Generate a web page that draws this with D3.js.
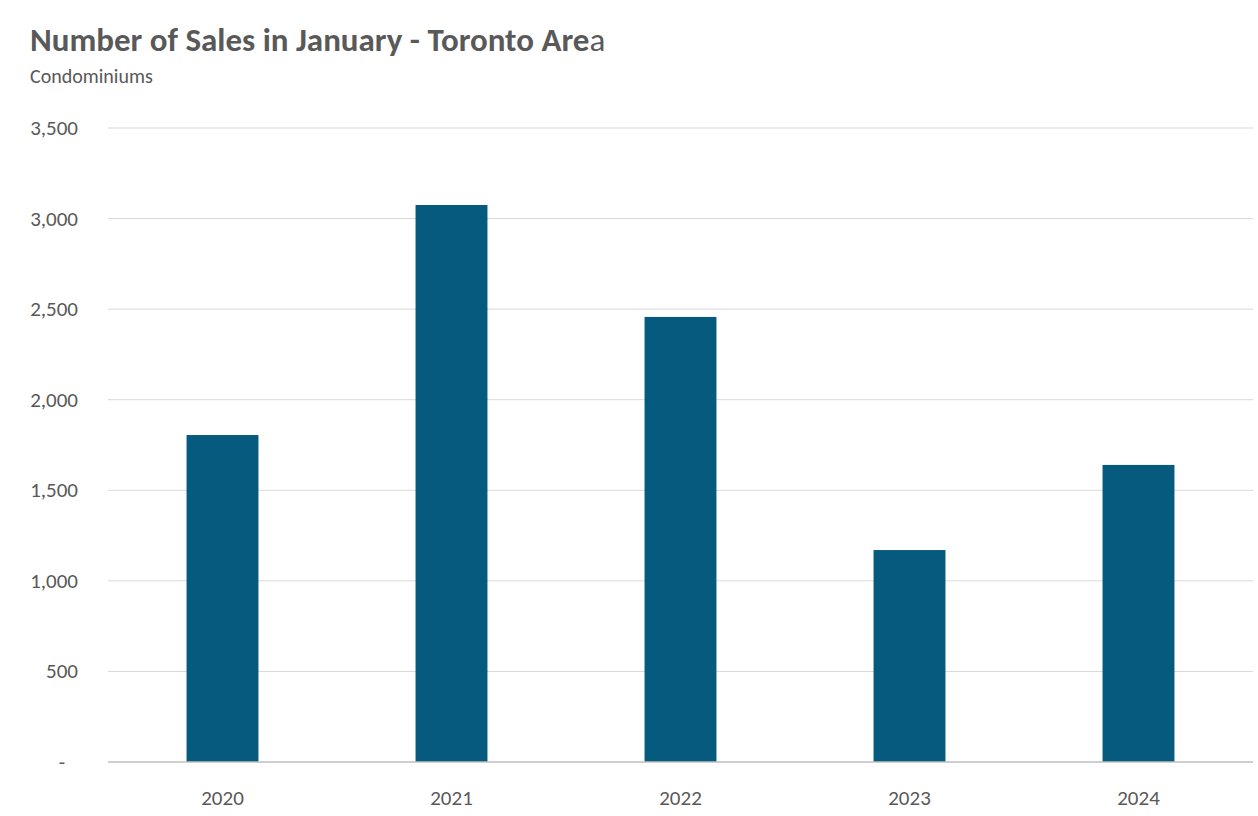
<!DOCTYPE html>
<html><head><meta charset="utf-8">
<script src="https://cdn.jsdelivr.net/npm/d3@7"></script>
<style>body{margin:0;background:#fff}text{font-family:Calibri,"Open Sans","Noto Sans",sans-serif}</style>
</head><body><svg id="c" width="1258" height="816"></svg>
<script>
const years = ["2020","2021","2022","2023","2024"];
const sales = [1805, 3075, 2457, 1170, 1640];
const yTicks = [0,500,1000,1500,2000,2500,3000,3500];

const svg = d3.select("#c");
const x = d3.scaleBand().domain(years).range([108,1253]).paddingInner(0.686).paddingOuter(0.343);
const y = d3.scaleLinear().domain([0,3500]).range([762,128]);
const gray = "#595959";

svg.append("g").selectAll("line").data(yTicks.slice(1)).join("line")
  .attr("x1",108).attr("x2",1253).attr("y1",d=>y(d)).attr("y2",d=>y(d))
  .attr("stroke","#d9d9d9").attr("stroke-width",1);

svg.append("g").selectAll("rect").data(years).join("rect")
  .attr("x",d=>x(d)).attr("width",x.bandwidth())
  .attr("y",(d,i)=>y(sales[i])).attr("height",(d,i)=>y(0)-y(sales[i]))
  .attr("fill","#065A7D");

svg.append("line").attr("x1",108).attr("x2",1253).attr("y1",y(0)).attr("y2",y(0))
  .attr("stroke","#bfbfbf").attr("stroke-width",1.5);

const fmt = d3.format(",");
svg.append("g").selectAll("text").data(yTicks).join("text")
  .attr("x",d=>d===0?62:78).attr("y",d=>y(d)+7).attr("text-anchor",d=>d===0?"middle":"end")
  .attr("font-size",21).attr("fill",gray).text(d=>d===0?"-":fmt(d));

svg.append("g").selectAll("text").data(years).join("text")
  .attr("x",d=>x(d)+x.bandwidth()/2).attr("y",805).attr("text-anchor","middle")
  .attr("font-size",21).attr("fill",gray).text(d=>d);

const t = svg.append("text").attr("x",30).attr("y",51).attr("font-size",33).attr("fill",gray);
t.append("tspan").attr("font-weight","bold").text("Number of Sales in January - Toronto Are");
t.append("tspan").text("a");
svg.append("text").attr("x",30).attr("y",83).attr("font-size",20).attr("fill",gray).text("Condominiums");
</script></body></html>
